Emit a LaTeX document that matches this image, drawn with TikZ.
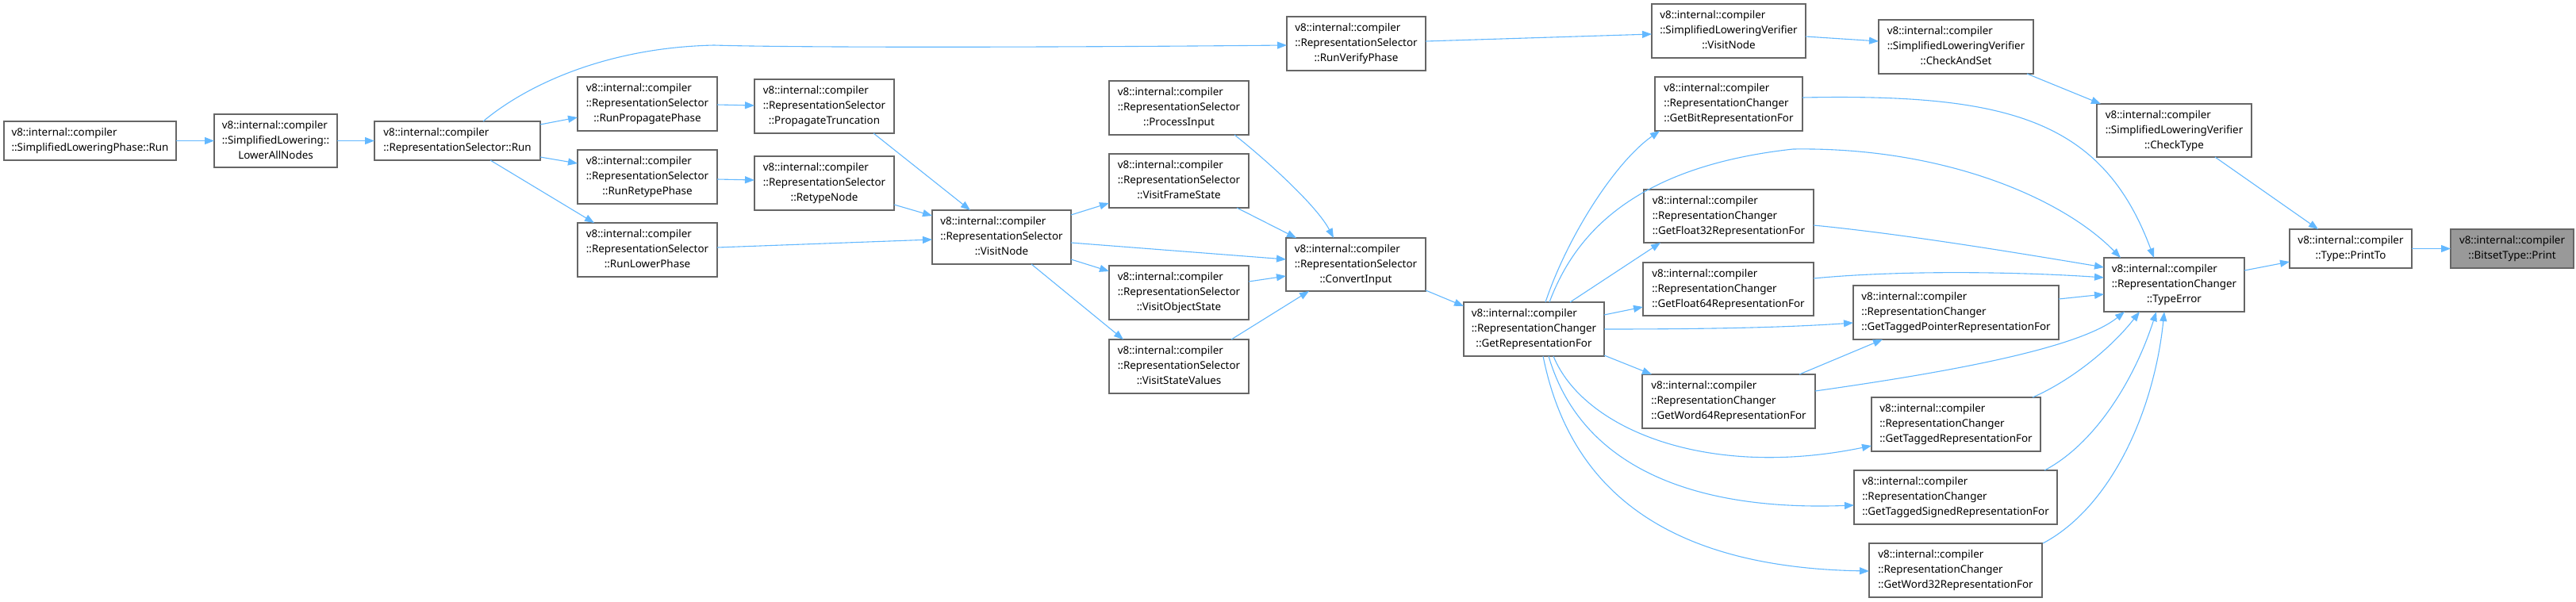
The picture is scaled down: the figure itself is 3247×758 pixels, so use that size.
\documentclass[tikz,border=0pt]{standalone}
\usepackage{fontspec}
\setmainfont{Noto Sans}
\usetikzlibrary{arrows.meta,calc}
\definecolor{edgeblue}{HTML}{63B8FF}
\definecolor{boxgray}{HTML}{666666}
\definecolor{hlgray}{HTML}{999999}
\newcommand\lblthree[3]{\begin{tabular}{@{}l@{}}#1\\#2\\\multicolumn{1}{@{}c@{}}{#3}\end{tabular}}
\newcommand\lbltwo[2]{\begin{tabular}{@{}l@{}}#1\\\multicolumn{1}{@{}c@{}}{#2}\end{tabular}}
\begin{document}
\begin{tikzpicture}[x=1pt,y=-1pt,
  box/.style={draw=boxgray, line width=1.2pt, fill=white, inner sep=0pt, outer sep=0pt,
    anchor=north west, font=\fontsize{13.4}{19}\selectfont, text=black},
  hl/.style={box, fill=hlgray},
  edge/.style={draw=edgeblue, line width=1.1pt, -{Triangle[length=12pt,width=9pt]}}]
\useasboundingbox (0,0) rectangle (3247,758);
\def\vic{v8::internal::compiler}
% nodes
\node[box,minimum width=217pt,minimum height=49pt] (SLPR) at (5,153) {\lbltwo{\vic}{::SimplifiedLoweringPhase::Run}};
\node[box,minimum width=155pt,minimum height=67pt] (LAN) at (270,144) {\lblthree{\vic}{::SimplifiedLowering::}{LowerAllNodes}};
\node[box,minimum width=209pt,minimum height=49pt] (RSRun) at (472,153) {\lbltwo{\vic}{::RepresentationSelector::Run}};
\node[box,minimum width=176pt,minimum height=68pt] (RPP) at (728,97) {\lblthree{\vic}{::RepresentationSelector}{::RunPropagatePhase}};
\node[box,minimum width=176pt,minimum height=68pt] (RRP) at (728,189) {\lblthree{\vic}{::RepresentationSelector}{::RunRetypePhase}};
\node[box,minimum width=176pt,minimum height=68pt] (RLP) at (728,281) {\lblthree{\vic}{::RepresentationSelector}{::RunLowerPhase}};
\node[box,minimum width=176pt,minimum height=68pt] (PT) at (951,100) {\lblthree{\vic}{::RepresentationSelector}{::PropagateTruncation}};
\node[box,minimum width=176pt,minimum height=68pt] (RN) at (951,197) {\lblthree{\vic}{::RepresentationSelector}{::RetypeNode}};
\node[box,minimum width=175pt,minimum height=68pt] (VN) at (1175,265) {\lblthree{\vic}{::RepresentationSelector}{::VisitNode}};
\node[box,minimum width=176pt,minimum height=68pt] (PI) at (1398,102) {\lblthree{\vic}{::RepresentationSelector}{::ProcessInput}};
\node[box,minimum width=176pt,minimum height=68pt] (VFS) at (1398,194) {\lblthree{\vic}{::RepresentationSelector}{::VisitFrameState}};
\node[box,minimum width=176pt,minimum height=68pt] (VOS) at (1398,335) {\lblthree{\vic}{::RepresentationSelector}{::VisitObjectState}};
\node[box,minimum width=176pt,minimum height=68pt] (VSV) at (1398,428) {\lblthree{\vic}{::RepresentationSelector}{::VisitStateValues}};
\node[box,minimum width=175pt,minimum height=68pt] (RVP) at (1622,21) {\lblthree{\vic}{::RepresentationSelector}{::RunVerifyPhase}};
\node[box,minimum width=176pt,minimum height=67pt] (CI) at (1621,300) {\lblthree{\vic}{::RepresentationSelector}{::ConvertInput}};
\node[box,minimum width=177pt,minimum height=68pt] (GRF) at (1845,381) {\lblthree{\vic}{::RepresentationChanger}{::GetRepresentationFor}};
\node[box,minimum width=194pt,minimum height=68pt] (SVN) at (2082,5) {\lblthree{\vic}{::SimplifiedLoweringVerifier}{::VisitNode}};
\node[box,minimum width=186pt,minimum height=68pt] (GBR) at (2086,97) {\lblthree{\vic}{::RepresentationChanger}{::GetBitRepresentationFor}};
\node[box,minimum width=214pt,minimum height=67pt] (GF32) at (2072,239) {\lblthree{\vic}{::RepresentationChanger}{::GetFloat32RepresentationFor}};
\node[box,minimum width=215pt,minimum height=67pt] (GF64) at (2071,331) {\lblthree{\vic}{::RepresentationChanger}{::GetFloat64RepresentationFor}};
\node[box,minimum width=218pt,minimum height=68pt] (GW64) at (2070,472) {\lblthree{\vic}{::RepresentationChanger}{::GetWord64RepresentationFor}};
\node[box,minimum width=195pt,minimum height=68pt] (CAS) at (2368,25) {\lblthree{\vic}{::SimplifiedLoweringVerifier}{::CheckAndSet}};
\node[box,minimum width=259pt,minimum height=68pt] (GTP) at (2336,360) {\lblthree{\vic}{::RepresentationChanger}{::GetTaggedPointerRepresentationFor}};
\node[box,minimum width=213pt,minimum height=68pt] (GT) at (2359,501) {\lblthree{\vic}{::RepresentationChanger}{::GetTaggedRepresentationFor}};
\node[box,minimum width=256pt,minimum height=68pt] (GTS) at (2337,593) {\lblthree{\vic}{::RepresentationChanger}{::GetTaggedSignedRepresentationFor}};
\node[box,minimum width=218pt,minimum height=68pt] (GW32) at (2356,685) {\lblthree{\vic}{::RepresentationChanger}{::GetWord32RepresentationFor}};
\node[box,minimum width=195pt,minimum height=67pt] (CT) at (2643,131) {\lblthree{\vic}{::SimplifiedLoweringVerifier}{::CheckType}};
\node[box,minimum width=177pt,minimum height=68pt] (TE) at (2652,325) {\lblthree{\vic}{::RepresentationChanger}{::TypeError}};
\node[box,minimum width=154pt,minimum height=49pt] (PTo) at (2886,289) {\lbltwo{\vic}{::Type::PrintTo}};
\node[hl,minimum width=155pt,minimum height=49pt] (PR) at (3089,289) {\lbltwo{\vic}{::BitsetType::Print}};
% edges
\draw[edge] (SLPR.east) -- (LAN.west);
\draw[edge] (LAN.east) -- (RSRun.west);
\draw[edge] ($(RSRun.north west)+(209,4)$) -- ($(RPP.north west)+(0,51)$);
\draw[edge] ($(RSRun.north west)+(209,45)$) -- ($(RRP.north west)+(0,17)$);
\draw[edge] ($(RSRun.north west)+(146,49)$) -- ($(RLP.north west)+(21,0)$);
\draw[edge] ($(RSRun.north west)+(137,0)$) .. controls (660,110) and (760,60) .. (900,57) .. controls (1000,60) and (1300,60) .. ($(RVP.north west)+(0,36)$);
\draw[edge] ($(RPP.north west)+(176,35)$) -- ($(PT.north west)+(0,33)$);
\draw[edge] ($(RRP.north west)+(176,37)$) -- ($(RN.north west)+(0,30)$);
\draw[edge] ($(PT.north west)+(150,68)$) -- ($(VN.north west)+(48,0)$);
\draw[edge] ($(RN.north west)+(176,61)$) -- ($(VN.north west)+(0,7)$);
\draw[edge] ($(RLP.north west)+(176,31)$) -- ($(VN.north west)+(0,37)$);
\draw[edge] ($(VN.north west)+(175,6)$) -- ($(VFS.north west)+(0,62)$);
\draw[edge] ($(VN.north west)+(175,41)$) -- ($(CI.north west)+(0,27)$);
\draw[edge] ($(VN.north west)+(175,62)$) -- ($(VOS.north west)+(0,7)$);
\draw[edge] ($(VN.north west)+(125,68)$) -- ($(VSV.north west)+(18,0)$);
\draw[edge] ($(PI.north west)+(158,68)$) .. controls (1600,205) and (1660,260) .. ($(CI.north west)+(60,0)$);
\draw[edge] ($(VFS.north west)+(161,68)$) -- ($(CI.north west)+(13,0)$);
\draw[edge] ($(VOS.north west)+(176,20)$) -- ($(CI.north west)+(0,48)$);
\draw[edge] ($(VSV.north west)+(154,0)$) -- ($(CI.north west)+(29,67)$);
\draw[edge] ($(CI.north west)+(176,66)$) -- ($(GRF.north west)+(0,5)$);
\draw[edge] ($(RVP.north west)+(175,31)$) -- ($(SVN.north west)+(0,38)$);
\draw[edge] ($(SVN.north west)+(194,41)$) -- ($(CAS.north west)+(0,27)$);
\draw[edge] ($(CAS.north west)+(187,68)$) -- ($(CT.north west)+(5,0)$);
\draw[edge] ($(CT.north west)+(149,67)$) -- ($(PTo.north west)+(36,0)$);
\draw[edge] ($(TE.north west)+(177,16)$) -- ($(PTo.north west)+(0,41)$);
\draw[edge] (PTo.east) -- (PR.west);
\draw[edge] ($(GRF.north west)+(103,0)$) .. controls (1975,300) and (2035,205) .. ($(GBR.north west)+(6,68)$);
\draw[edge] ($(GRF.north west)+(108,0)$) .. controls (1985,295) and (2060,210) .. (2260,188) .. controls (2450,185) and (2600,250) .. ($(TE.north west)+(21,0)$);
\draw[edge] ($(GRF.north west)+(134,0)$) -- ($(GF32.north west)+(21,67)$);
\draw[edge] ($(GRF.north west)+(177,16)$) -- ($(GF64.north west)+(0,56)$);
\draw[edge] ($(GRF.north west)+(177,34)$) .. controls (2150,415) and (2250,413) .. ($(GTP.north west)+(0,47)$);
\draw[edge] ($(GRF.north west)+(177,67)$) -- ($(GW64.north west)+(12,0)$);
\draw[edge] ($(GRF.north west)+(113,68)$) .. controls (1995,540) and (2150,605) .. ($(GT.north west)+(0,61)$);
\draw[edge] ($(GRF.north west)+(107,68)$) .. controls (1990,580) and (2120,645) .. ($(GTS.north west)+(0,44)$);
\draw[edge] ($(GRF.north west)+(100,68)$) .. controls (1975,600) and (2080,715) .. ($(GW32.north west)+(0,35)$);
\draw[edge] ($(GBR.north west)+(186,26)$) .. controls (2530,118) and (2650,150) .. ($(TE.north west)+(63,0)$);
\draw[edge] ($(GF32.north west)+(214,45)$) .. controls (2400,295) and (2550,320) .. ($(TE.north west)+(0,12)$);
\draw[edge] ($(GF64.north west)+(215,20)$) .. controls (2400,340) and (2550,343) .. ($(TE.north west)+(0,25)$);
\draw[edge] ($(GTP.north west)+(259,17)$) -- ($(TE.north west)+(0,46)$);
\draw[edge] ($(GW64.north west)+(218,21)$) .. controls (2450,470) and (2620,440) .. ($(TE.north west)+(26,68)$);
\draw[edge] ($(GW64.north west)+(198,0)$) -- ($(GTP.north west)+(37,68)$);
\draw[edge] ($(GT.north west)+(203,0)$) .. controls (2610,480) and (2660,440) .. ($(TE.north west)+(45,68)$);
\draw[edge] ($(GTS.north west)+(240,0)$) .. controls (2640,560) and (2690,480) .. ($(TE.north west)+(66,68)$);
\draw[edge] ($(GW32.north west)+(219,0)$) .. controls (2660,640) and (2715,520) .. ($(TE.north west)+(76,68)$);
\end{tikzpicture}
\end{document}
